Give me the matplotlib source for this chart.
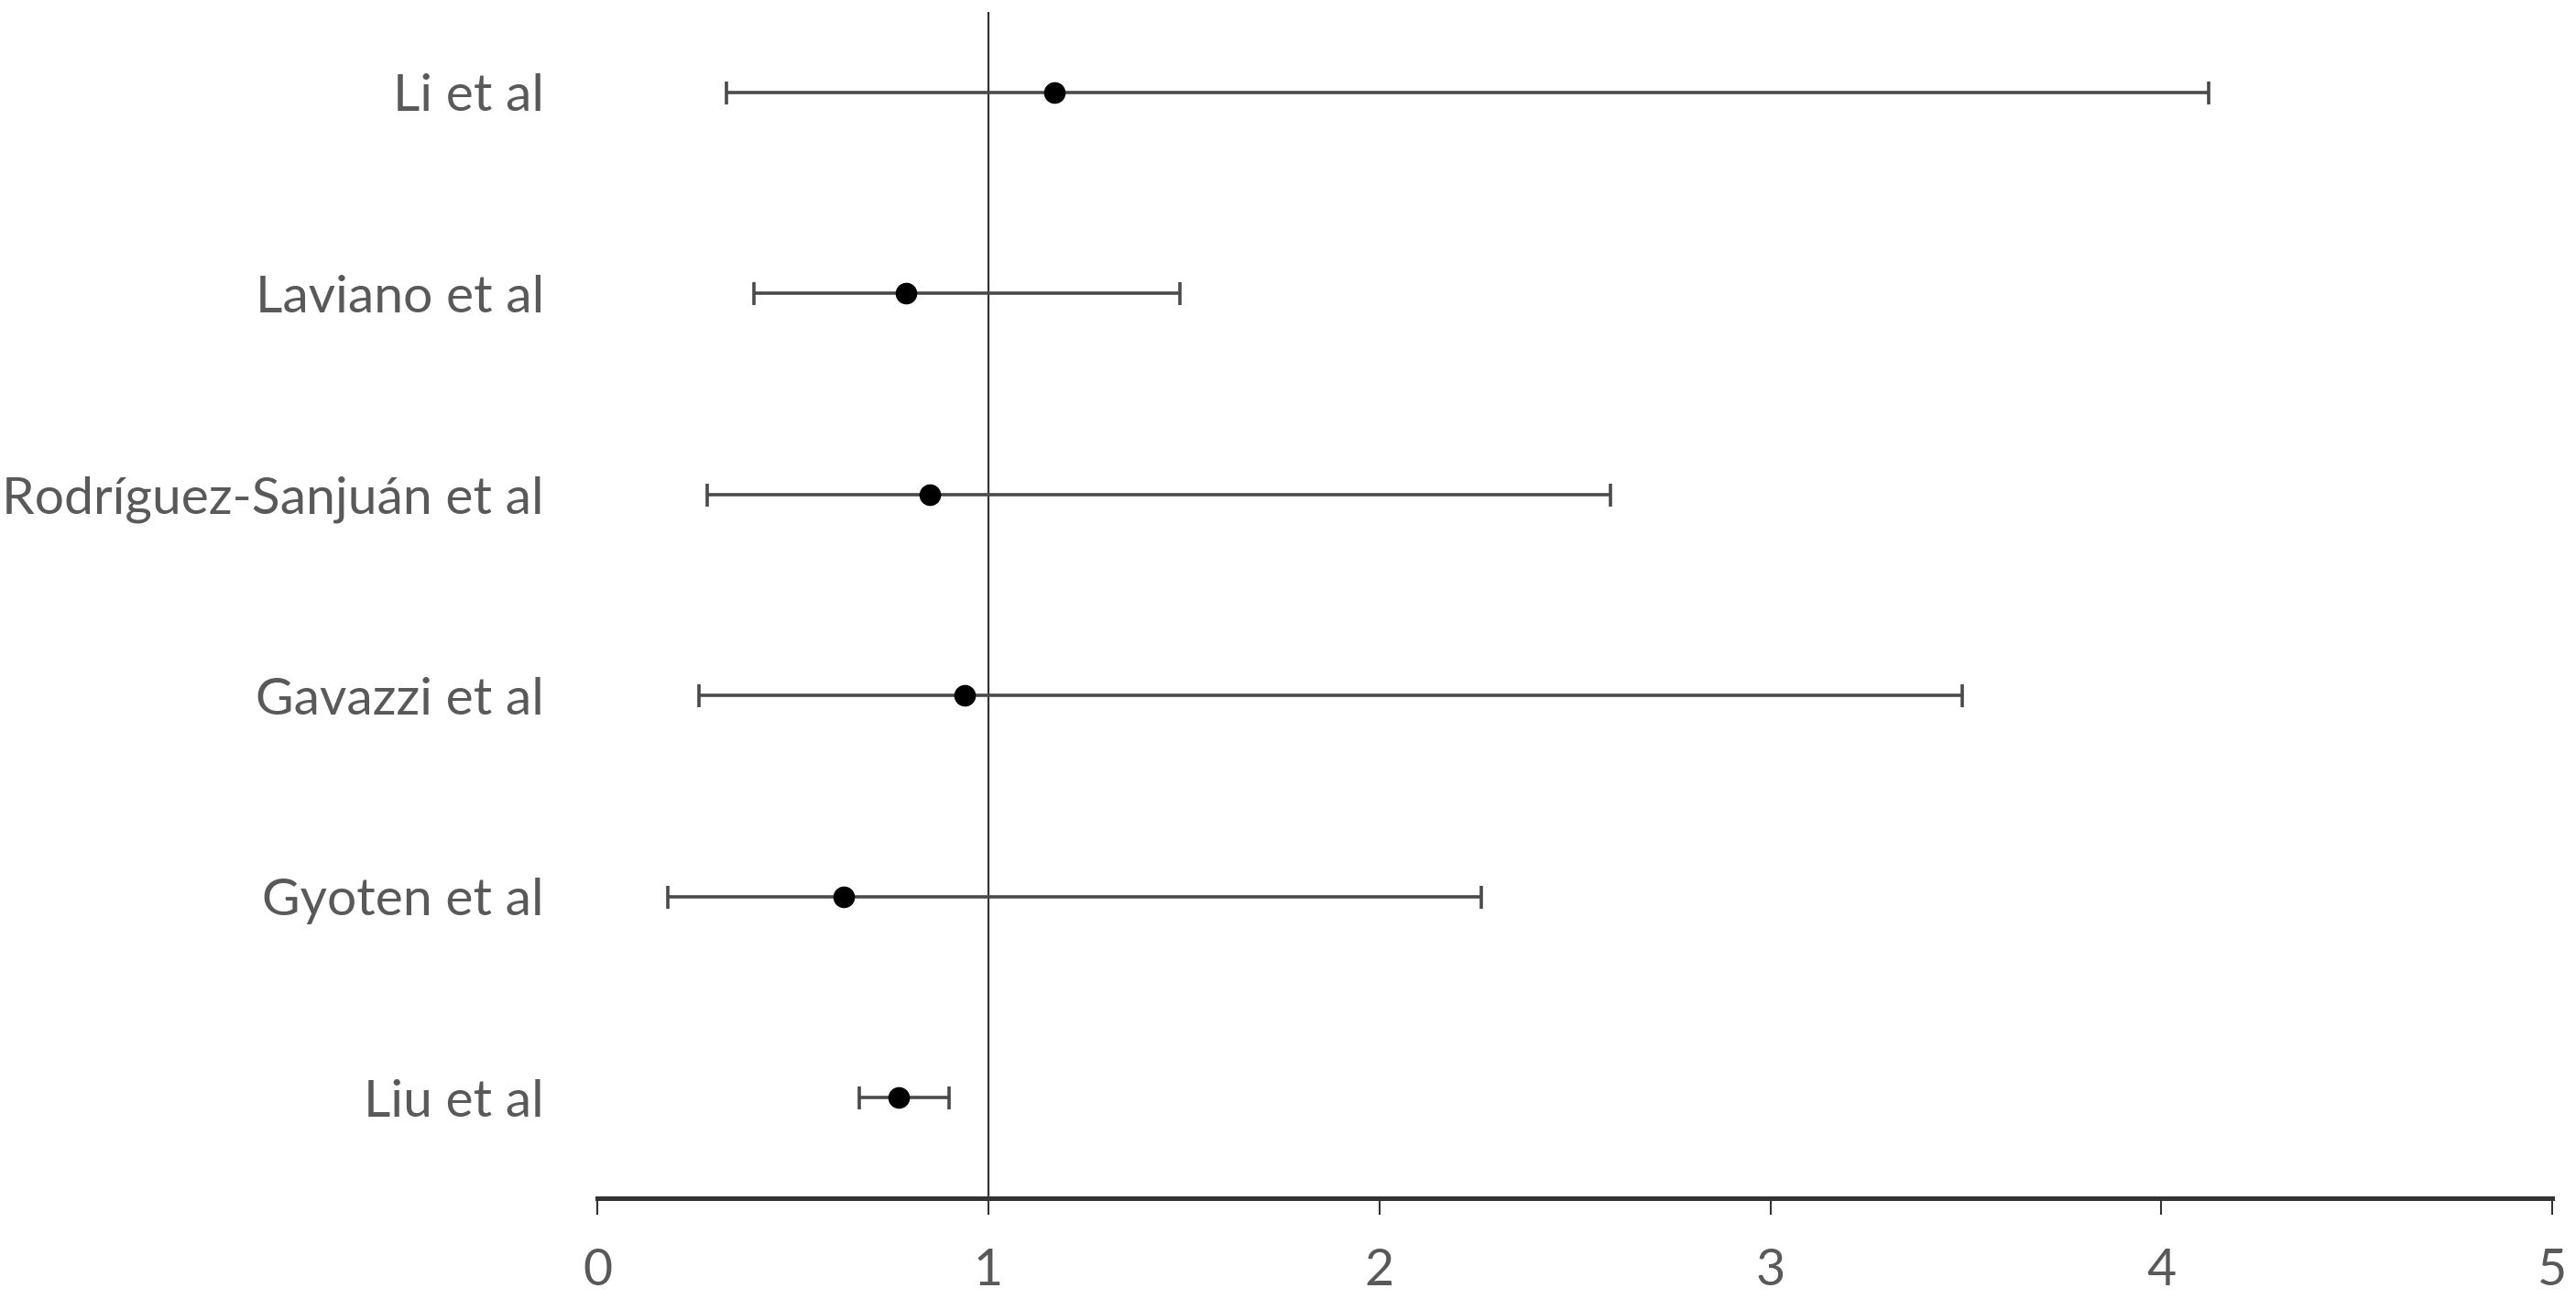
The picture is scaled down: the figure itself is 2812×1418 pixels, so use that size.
import matplotlib
matplotlib.use("Agg")
import matplotlib.pyplot as plt
import numpy as np

# study names, top to bottom as shown
studies = ["Li et al", "Laviano et al", "Rodríguez-Sanjuán et al",
           "Gavazzi et al", "Gyoten et al", "Liu et al"]
estimate = [1.17, 0.79, 0.85, 0.94, 0.63, 0.77]
lower = [0.33, 0.40, 0.28, 0.26, 0.18, 0.67]
upper = [4.12, 1.49, 2.59, 3.49, 2.26, 0.90]
x_ticks = [0, 1, 2, 3, 4, 5]

plt.rcParams['font.family'] = ['Lato', 'DejaVu Sans']

fig = plt.figure(figsize=(28.12, 14.18), dpi=100)
ax = fig.add_axes([0.2319, 0.0776, 0.7589, 0.9133])

n = len(studies)
ypos = np.arange(n, 0, -1)  # first study at the top
est = np.array(estimate)
err = [est - np.array(lower), np.array(upper) - est]

ax.errorbar(est, ypos, xerr=err, fmt='o', color='black', markersize=16,
            ecolor='#4a4a4a', elinewidth=2.6, capsize=9, capthick=2.6, zorder=3)

# reference line at 1 (where the vertical axis crosses)
ax.axvline(1, color='#333333', linewidth=1.6, zorder=2)

ax.set_xlim(0, 5)
ax.set_ylim(0.5, 6.4)
ax.set_xticks(x_ticks)
ax.set_xticklabels([str(t) for t in x_ticks])
ax.set_yticks(ypos)
ax.set_yticklabels(studies)

for s in ['top', 'right', 'left']:
    ax.spines[s].set_visible(False)
ax.spines['bottom'].set_linewidth(3.6)
ax.spines['bottom'].set_color('#333333')

ax.tick_params(axis='x', direction='out', length=13, width=1.5, color='#333333',
               labelsize=40, labelcolor='#595959', pad=26)
ax.tick_params(axis='y', length=0, labelsize=41, labelcolor='#595959', pad=42)

fig.savefig("out.png", dpi=100)
